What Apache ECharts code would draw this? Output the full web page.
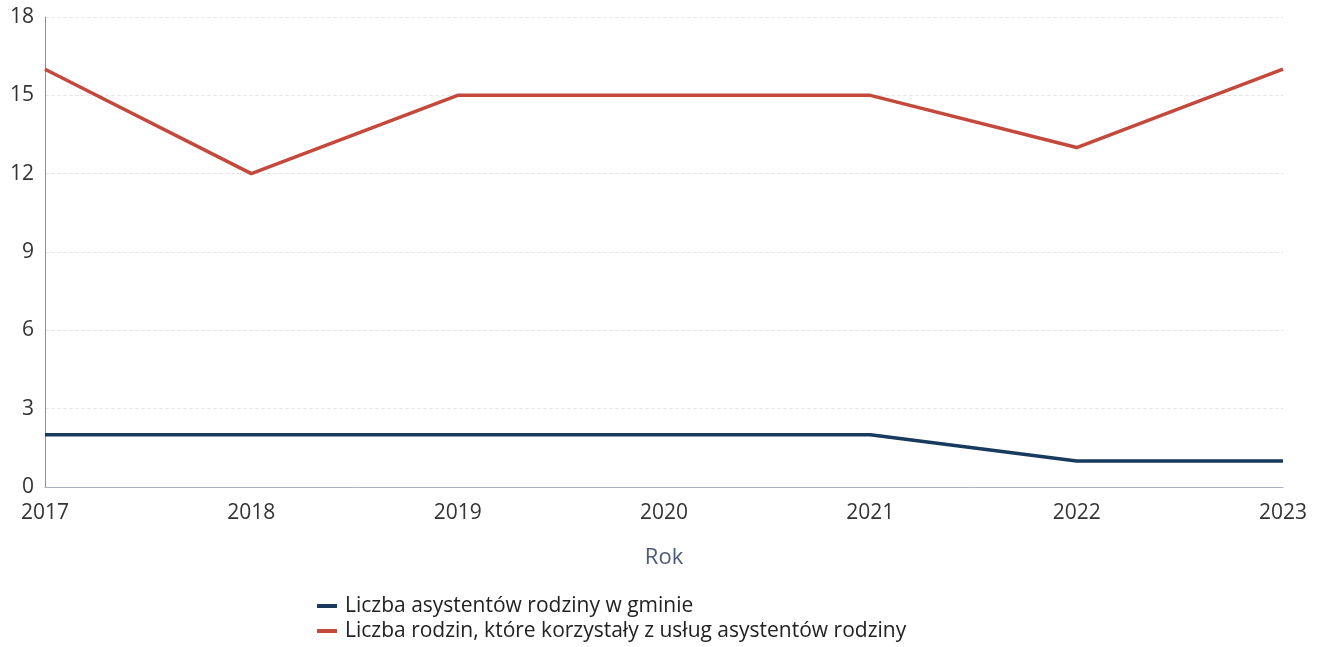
<!DOCTYPE html>
<html><head><meta charset="utf-8">
<script src="https://cdn.jsdelivr.net/npm/echarts@6/dist/echarts.min.js"></script>
<style>html,body{margin:0;padding:0;background:#fff}#c{width:1318px;height:647px}</style>
</head><body><div id="c"></div>
<script>
const years = ['2017','2018','2019','2020','2021','2022','2023'];
const asystenci = [2,2,2,2,2,1,1];
const rodziny = [16,12,15,15,15,13,16];
const yTicks = [0,3,6,9,12,15,18];
const seriesNames = ['Liczba asystentów rodziny w gminie','Liczba rodzin, które korzystały z usług asystentów rodziny'];

const chart = echarts.init(document.getElementById('c'), null, {renderer:'canvas'});
chart.setOption({
  animation:false,
  textStyle:{fontFamily:'Open Sans'},
  grid:{left:45,right:35,top:17,bottom:160},
  legend:{
    orient:'vertical', left:317, top:595, padding:0, itemGap:3,
    icon:'rect', itemWidth:20, itemHeight:4, itemStyle:{borderWidth:0},
    textStyle:{fontSize:21,lineHeight:22,color:'#222',fontFamily:'Open Sans',padding:[0,0,0,3]},
    data:seriesNames
  },
  xAxis:{
    type:'category', data:years, boundaryGap:false,
    name:'Rok', nameLocation:'middle', nameGap:60,
    nameTextStyle:{fontSize:22,color:'#4d5b78'},
    axisLine:{lineStyle:{color:'#a9b4c6',width:1}},
    axisTick:{show:false},
    axisLabel:{fontSize:21,color:'#333',margin:16}
  },
  yAxis:{
    type:'value', min:0, max:18, interval:3,
    axisLine:{show:true,lineStyle:{color:'#8391a8',width:1}},
    axisTick:{show:false},
    axisLabel:{fontSize:21,color:'#333',margin:11},
    splitLine:{show:true,lineStyle:{color:'#e6e6e6',type:'dashed',width:1}}
  },
  series:[
    {name:seriesNames[0],type:'line',data:asystenci,symbol:'none',
     lineStyle:{color:'#183a5e',width:3.5},itemStyle:{color:'#183a5e'}},
    {name:seriesNames[1],type:'line',data:rodziny,symbol:'none',
     lineStyle:{color:'#c4493c',width:3.5},itemStyle:{color:'#c4493c'}}
  ]
});
</script></body></html>
